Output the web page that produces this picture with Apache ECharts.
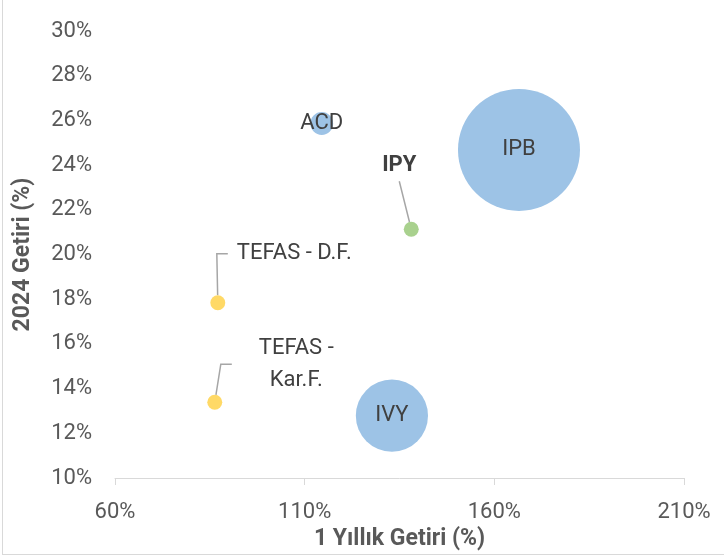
<!DOCTYPE html>
<html>
<head>
<meta charset="utf-8">
<script src="https://cdn.jsdelivr.net/npm/echarts@6/dist/echarts.min.js"></script>
<style>
    html, body { margin: 0; padding: 0; background: #fff; }
    #wrap { position: relative; width: 724px; height: 558px; overflow: hidden; }
    #frame { position: absolute; left: 2px; top: -2px; width: 730px; height: 556px;
             border-left: 1px solid #d9d9d9; border-bottom: 1px solid #d9d9d9; }
    #chart_container { position: absolute; left: 0; top: 0; width: 724px; height: 558px; }
</style>
</head>
<body>
<div id="wrap">
    <div id="frame"></div>
    <div id="chart_container"></div>
</div>
<script>
// 1 yıllık getiri (x), 2024 getiri (y), balon büyüklüğü
var fundNames   = ['ACD', 'IPB', 'IVY']
var fundX       = [114.5, 166.5, 133.0]
var fundY       = [25.86, 24.68, 12.79]
var fundSize    = [3.5, 100, 35]

var ipyName     = ['IPY']
var ipyX        = [138.1]
var ipyY        = [21.13]
var ipySize     = [1.5]

var tefasNames  = ['TEFAS - D.F.', 'TEFAS -\nKar.F.']
var tefasX      = [87.1, 86.3]
var tefasY      = [17.84, 13.39]
var tefasSize   = [1.5, 1.5]

var xTicks = [60, 110, 160, 210]
var yTicks = [10, 12, 14, 16, 18, 20, 22, 24, 26, 28, 30]

var font = 'Roboto'

function bubble (v) {
    return 122 * Math.sqrt(v[2] / 100)
}
function rows (names, xs, ys, sizes) {
    let out = []
    for (let i = 0; i < names.length; i++) out.push({ name: names[i], value: [xs[i], ys[i], sizes[i]] })
    return out
}

var chart = echarts.init(document.getElementById('chart_container'))
var tefasData = rows(tefasNames, tefasX, tefasY, tefasSize)
tefasData[0].label = { padding: [0, 0, 0, 9], lineHeight: 26, backgroundColor: 'rgba(255,255,255,0)' }
tefasData[0].labelLine = { length2: 11 }
tefasData[1].label = { padding: [0, 0, 0, 27], lineHeight: 32, backgroundColor: 'rgba(255,255,255,0)' }
tefasData[1].labelLine = { length2: 11 }

var option = {
    animation: false,
    grid: { left: 115, right: 40, top: 31, bottom: 80 },
    xAxis: {
        type: 'value', min: xTicks[0], max: xTicks[xTicks.length - 1], interval: 50,
        name: '1 Yıllık Getiri (%)', nameLocation: 'middle', nameGap: 48,
        nameTextStyle: { fontFamily: font, fontSize: 23, fontWeight: 'bold', color: '#595959' },
        axisLine: { show: true, lineStyle: { color: '#d9d9d9', width: 1 } },
        axisTick: { show: true, length: 7, lineStyle: { color: '#d9d9d9' } },
        splitLine: { show: false },
        axisLabel: { formatter: '{value}%', fontFamily: font, fontSize: 22, color: '#595959', margin: 23 }
    },
    yAxis: {
        type: 'value', min: yTicks[0], max: yTicks[yTicks.length - 1], interval: 2,
        name: '2024 Getiri (%)', nameLocation: 'middle', nameGap: 80,
        nameTextStyle: { fontFamily: font, fontSize: 23, fontWeight: 'bold', color: '#595959' },
        axisLine: { show: false },
        axisTick: { show: false },
        splitLine: { show: false },
        axisLabel: { formatter: '{value}%', fontFamily: font, fontSize: 22, color: '#595959', margin: 23 }
    },
    series: [
        {
            name: 'Fonlar', type: 'scatter',
            data: rows(fundNames, fundX, fundY, fundSize),
            symbolSize: bubble,
            itemStyle: { color: '#9dc3e6', opacity: 1 },
            label: { show: true, position: 'inside', formatter: '{b}',
                     fontFamily: font, fontSize: 22, color: '#404040' }
        },
        {
            name: 'IPY', type: 'scatter',
            data: rows(ipyName, ipyX, ipyY, ipySize),
            symbolSize: bubble,
            itemStyle: { color: '#a9d18e', opacity: 1 },
            label: { show: true, position: 'inside', formatter: '{b}', padding: [0, 0, 10, 0],
                     backgroundColor: 'rgba(255,255,255,0)',
                     fontFamily: font, fontSize: 22, fontWeight: 'bold', color: '#404040' },
            labelLine: { show: true, length2: 0, lineStyle: { color: '#a6a6a6', width: 1.5 } },
            labelLayout: { dx: -12, dy: -64 }
        },
        {
            name: 'TEFAS', type: 'scatter',
            data: tefasData,
            symbolSize: bubble,
            itemStyle: { color: '#ffd966', opacity: 1 },
            label: { show: true, position: 'inside', formatter: '{b}',
                     fontFamily: font, fontSize: 22, color: '#404040' },
            labelLine: { show: true, lineStyle: { color: '#a6a6a6', width: 1.5 } },
            labelLayout: function (p) {
                return p.dataIndex === 0 ? { dx: 72, dy: -49 } : { dx: 68, dy: -38 }
            }
        }
    ]
}
chart.setOption(option)
</script>
</body>
</html>
